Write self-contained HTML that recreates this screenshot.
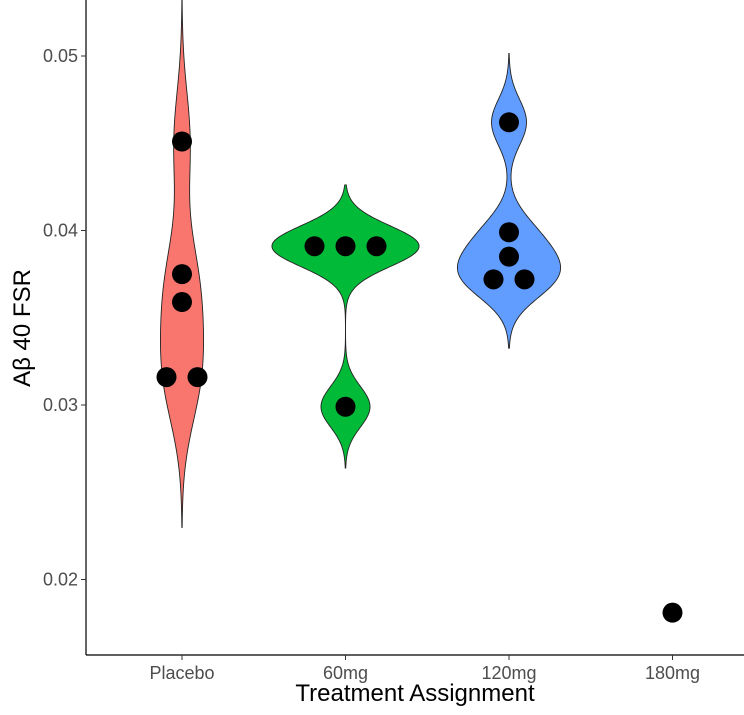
<!DOCTYPE html>
<html><head><meta charset="utf-8">
<style>
html,body{margin:0;padding:0;background:#fff;}
svg{display:block;font-family:"Liberation Sans",sans-serif;}
</style></head>
<body>
<svg id="chart" width="744" height="715"></svg>
<script>
const categories = ["Placebo","60mg","120mg","180mg"];
const groupValues = [
  [0.0451,0.0375,0.0359,0.0316,0.0316],
  [0.0391,0.0391,0.0391,0.0299],
  [0.0462,0.0399,0.0385,0.0372,0.0372],
  [0.0181]
];
const colors = ["#F8766D","#00BA38","#619CFF","#C77CFF"];
const yTicks = [0.02,0.03,0.04,0.05];
const yTickLabels = ["0.02","0.03","0.04","0.05"];

const NS="http://www.w3.org/2000/svg";
const svg=document.getElementById("chart");
const plotLeft=86, plotBottom=655, plotRight=744;
const xStep=163.5, x0=182;
function xScale(i){return x0+i*xStep;}
function yScale(v){return 56+(0.05-v)*17450;}
function mk(tag,attrs,parent){const e=document.createElementNS(NS,tag);for(const k in attrs)e.setAttribute(k,attrs[k]);(parent||svg).appendChild(e);return e;}

function quantile(s,p){const h=(s.length-1)*p,lo=Math.floor(h),hi=Math.ceil(h);return s[lo]+(s[hi]-s[lo])*(h-lo);}
function bwNrd0(v){const n=v.length,m=v.reduce((a,b)=>a+b,0)/n;
  const sd=Math.sqrt(v.reduce((a,b)=>a+(b-m)*(b-m),0)/(n-1));
  const s=[...v].sort((a,b)=>a-b);const iqr=(quantile(s,0.75)-quantile(s,0.25))/1.34;
  let lo=Math.min(sd,iqr);if(!(lo>0))lo=sd||Math.abs(s[0])||1;return 0.9*lo*Math.pow(n,-0.2);}
const dens=[];let maxD=0;
groupValues.forEach((v,gi)=>{
  if(v.length<2){dens.push(null);return;}
  const bw=bwNrd0(v);const lo=Math.min(...v)-3*bw,hi=Math.max(...v)+3*bw;const pts=[];
  for(let k=0;k<=200;k++){const y=lo+(hi-lo)*k/200;let d=0;
    v.forEach(x=>{const z=(y-x)/bw;d+=Math.exp(-0.5*z*z);});d/=v.length*bw*Math.sqrt(2*Math.PI);
    pts.push([y,d]);if(d>maxD)maxD=d;}
  dens.push(pts);
});
const maxHalf=0.45*xStep;
dens.forEach((pts,gi)=>{
  if(!pts)return;const cx=xScale(gi);
  let d="";pts.forEach((p,k)=>{d+=(k?"L":"M")+(cx+p[1]/maxD*maxHalf).toFixed(2)+","+yScale(p[0]).toFixed(2);});
  for(let k=pts.length-1;k>=0;k--){const p=pts[k];d+="L"+(cx-p[1]/maxD*maxHalf).toFixed(2)+","+yScale(p[0]).toFixed(2);}
  d+="Z";
  const path=mk("path",{d:d,fill:colors[gi],stroke:"#222","stroke-width":0.9});
  
  
});
groupValues.forEach((v,gi)=>{
  v.forEach((val,i)=>{
    const same=v.map((w,j)=>j).filter(j=>Math.abs(v[j]-val)<1e-9);
    const idx=same.indexOf(i);const off=(idx-(same.length-1)/2)*31;
    const c=mk("circle",{cx:xScale(gi)+off,cy:yScale(val),r:10,fill:"#000"});
    
    
  });
});
const ya=mk("line",{x1:plotLeft,y1:0,x2:plotLeft,y2:plotBottom,stroke:"#000","stroke-width":1.2});

const xa=mk("line",{x1:plotLeft,y1:plotBottom,x2:plotRight,y2:plotBottom,stroke:"#000","stroke-width":1.2});

yTicks.forEach((t,i)=>{const y=yScale(t);
  mk("line",{x1:plotLeft-5,y1:y,x2:plotLeft,y2:y,stroke:"#333","stroke-width":1});
  const tx=mk("text",{x:plotLeft-8,y:y+6,"text-anchor":"end","font-size":18,fill:"#4d4d4d"});tx.textContent=yTickLabels[i];
  
});
categories.forEach((c,i)=>{const x=xScale(i);
  mk("line",{x1:x,y1:plotBottom,x2:x,y2:plotBottom+5,stroke:"#333","stroke-width":1});
  const tx=mk("text",{x:x,y:plotBottom+24,"text-anchor":"middle","font-size":18,fill:"#4d4d4d"});tx.textContent=c;
  
});
const xt=mk("text",{x:415,y:701,"text-anchor":"middle","font-size":24,fill:"#000"});xt.textContent="Treatment Assignment";

const yt=mk("text",{x:0,y:0,"text-anchor":"middle","font-size":24,fill:"#000",transform:"translate(30,328) rotate(-90)"});yt.textContent="Aβ 40 FSR";

</script>
</body></html>
